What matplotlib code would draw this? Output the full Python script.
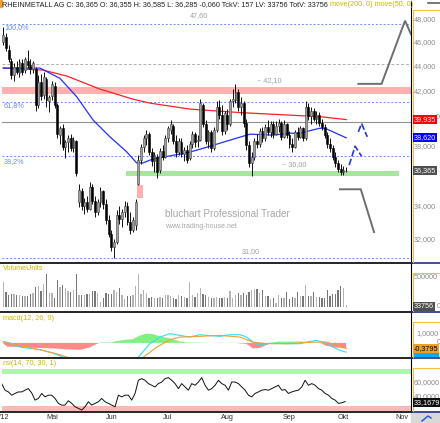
import matplotlib
matplotlib.use('Agg')
import matplotlib.pyplot as plt
import numpy as np
from matplotlib.patches import Rectangle
from matplotlib.lines import Line2D

plt.rcParams['font.family'] = ['Liberation Sans', 'DejaVu Sans']

W, H = 440, 423

# ---------------- data ----------------
opens = [46.0, 46.5, 45.4, 44.5, 43.3, 44.0, 43.5, 44.3, 43.7, 44.5, 44.1, 43.8, 43.8, 41.0, 42.8, 41.8,
         43.0, 41.3, 41.7, 42.5, 41.0, 38.8, 39.3, 38.0, 38.3, 38.6, 37.9, 38.4, 34.3, 35.0, 34.1, 34.3,
         33.9, 35.3, 34.4, 33.7, 34.3, 35.0, 34.2, 33.2, 32.4, 31.6, 31.9, 33.5, 33.3, 33.7, 34.1, 33.1,
         32.6, 32.9, 35.5, 37.1, 38.0, 38.6, 38.9, 37.6, 37.0, 37.3, 36.4, 37.7, 37.3, 38.6, 39.2, 39.5,
         38.4, 37.6, 38.3, 37.5, 37.8, 37.2, 38.2, 38.9, 38.4, 38.5, 41.0, 39.6, 38.4, 39.0, 37.9, 39.2,
         40.9, 40.3, 39.1, 40.3, 39.6, 41.3, 41.4, 42.0, 40.9, 41.2, 39.7, 38.1, 36.9, 37.3, 38.4, 38.2,
         39.1, 38.6, 39.4, 39.0, 39.6, 38.9, 39.5, 39.7, 38.7, 39.6, 38.8, 38.2, 38.0, 39.0, 38.7, 39.3,
         38.6, 40.9, 40.2, 40.6, 40.0, 40.3, 39.7, 39.4, 38.8, 38.2, 37.9, 37.3, 36.9, 36.5, 36.3, 36.355]
highs = [47.3, 46.8, 45.8, 44.7, 44.3, 44.5, 44.6, 44.6, 44.8, 45.4, 44.6, 44.5, 44.0, 43.3, 43.4, 43.6,
         43.2, 41.8, 42.9, 42.8, 41.2, 39.5, 39.6, 38.5, 38.8, 38.9, 38.7, 38.5, 35.5, 35.2, 34.6, 34.7,
         35.6, 35.5, 34.7, 34.5, 35.3, 35.1, 34.5, 33.5, 32.6, 32.1, 33.8, 34.1, 33.9, 34.4, 34.3, 33.7,
         33.4, 34.5, 37.4, 38.2, 38.8, 39.2, 39.0, 37.9, 37.6, 37.5, 37.9, 38.1, 38.8, 39.5, 39.9, 39.6,
         38.8, 38.6, 38.6, 38.0, 38.1, 38.4, 39.1, 39.0, 38.8, 41.5, 41.2, 39.9, 39.2, 39.2, 39.4, 41.3,
         41.4, 41.0, 40.6, 40.7, 41.5, 42.2, 42.65, 42.2, 41.6, 41.3, 40.0, 38.4, 37.6, 38.6, 38.9, 39.3,
         39.4, 39.6, 39.9, 39.8, 39.8, 39.8, 40.0, 39.8, 39.9, 39.7, 39.1, 38.6, 39.2, 39.4, 39.5, 39.4,
         41.3, 41.2, 40.9, 40.8, 40.6, 40.5, 40.0, 39.6, 39.0, 38.6, 38.1, 37.6, 37.1, 36.8, 36.7, 36.585]
lows = [45.8, 45.3, 44.4, 43.0, 42.9, 43.4, 43.2, 43.3, 43.5, 43.9, 43.4, 43.5, 40.6, 40.8, 41.4, 41.5,
        40.9, 40.5, 41.4, 40.8, 38.6, 38.2, 37.8, 37.2, 37.6, 37.7, 37.6, 36.0, 34.0, 33.8, 33.6, 33.7,
        33.8, 34.2, 33.4, 33.5, 34.0, 33.9, 33.0, 32.2, 31.4, 31.0, 31.8, 33.0, 32.8, 33.4, 32.9, 32.4,
        32.5, 32.6, 35.4, 36.8, 37.6, 38.1, 37.4, 36.7, 36.3, 35.9, 36.2, 37.1, 37.2, 38.3, 38.9, 38.2,
        37.3, 37.4, 37.3, 37.0, 36.9, 37.1, 37.9, 38.0, 38.0, 38.4, 39.4, 38.2, 37.9, 37.6, 37.8, 39.0,
        40.0, 38.8, 38.9, 39.2, 39.5, 40.9, 41.2, 40.6, 40.3, 39.4, 37.8, 36.6, 36.0, 37.1, 37.9, 38.0,
        38.3, 38.4, 38.8, 38.7, 38.6, 38.8, 39.0, 38.5, 38.6, 38.6, 37.9, 37.6, 37.9, 38.5, 38.6, 38.4,
        38.5, 39.9, 39.6, 39.8, 39.6, 39.5, 39.2, 38.6, 37.9, 37.6, 37.1, 36.6, 36.3, 36.1, 36.1, 36.285]
closes = [46.6, 45.5, 44.6, 43.3, 44.0, 43.6, 44.4, 43.6, 44.6, 44.1, 43.8, 44.3, 41.0, 42.8, 41.7, 43.2,
          41.4, 41.6, 42.6, 41.0, 38.9, 39.3, 38.0, 38.3, 38.6, 37.9, 38.5, 36.2, 35.1, 34.1, 34.3, 33.9,
          35.3, 34.4, 33.7, 34.3, 35.0, 34.2, 33.2, 32.4, 31.6, 31.9, 33.5, 33.3, 33.7, 34.1, 33.1, 32.6,
          33.2, 34.3, 37.1, 38.0, 38.6, 38.9, 37.6, 37.0, 37.4, 36.3, 37.7, 37.3, 38.6, 39.3, 39.6, 38.4,
          37.6, 38.4, 37.5, 37.8, 37.1, 38.2, 38.9, 38.3, 38.5, 41.2, 39.6, 38.4, 39.0, 37.9, 39.2, 40.9,
          40.3, 39.1, 40.4, 39.6, 41.3, 41.5, 42.0, 40.9, 41.2, 39.7, 38.1, 36.9, 37.3, 38.4, 38.2, 39.1,
          38.6, 39.4, 39.0, 39.6, 38.9, 39.5, 39.7, 38.7, 39.6, 38.8, 38.2, 38.0, 39.0, 38.7, 39.3, 38.6,
          40.9, 40.2, 40.6, 40.0, 40.3, 39.7, 39.4, 38.8, 38.2, 37.9, 37.3, 36.9, 36.5, 36.3, 36.4, 36.365]
volumes_k = [431, 259, 201, 230, 230, 207, 200, 190, 187, 195,
             230, 236, 340, 357, 270, 402, 576, 242, 242, 144,
             471, 350, 385, 328, 270, 259, 293, 576, 213, 213,
             213, 215, 230, 270, 275, 242, 86, 155, 247, 218,
             218, 293, 259, 328, 201, 132, 190, 190, 201, 357,
             576, 230, 299, 247, 155, 172, 155, 155, 172, 155,
             201, 201, 190, 150, 140, 201, 190, 172, 161, 431,
             213, 172, 247, 334, 218, 200, 172, 161, 144, 172,
             144, 161, 175, 155, 276, 144, 213, 242, 201, 242,
             201, 260, 299, 310, 316, 247, 287, 190, 190, 127,
             161, 58, 213, 161, 144, 259, 127, 172, 144, 259,
             190, 190, 374, 190, 190, 259, 172, 172, 161, 155,
             299, 190, 218, 230, 299, 362, 328, 33.756]

# moving averages (bar index, value)
ma200_idx = [0, 14.7, 23.6, 35.8, 48, 54.3, 69.1, 87.7, 106.2, 117.3, 127]
ma200_val = [43.89, 43.73, 43.25, 42.23, 41.46, 41.16, 40.71, 40.45, 40.26, 40.15, 39.935]
ma50_idx = [0, 13.6, 21, 27.2, 33.3, 39.5, 45.7, 49.4, 51.7, 54.3, 56.9, 62.9, 69.1, 75.4, 81.4,
            87.7, 91.4, 99.9, 106.2, 109.9, 117.3, 119.9, 127]
ma50_val = [43.89, 43.89, 43.07, 41.64, 39.89, 38.69, 37.64, 36.88, 36.88, 37.07, 37.20, 37.40, 37.62,
            37.96, 38.31, 38.67, 38.88, 38.81, 38.95, 38.95, 39.31, 39.24, 38.62]

# MACD (bar index, value)
macd_idx = [0, 2.5, 6.2, 11, 14.7, 18.4, 22, 26, 30, 35, 41, 45, 48, 50, 54.3, 58, 61.7, 65.4, 69,
            72.8, 75.4, 80.3, 84, 87.7, 90.1, 92.5, 95, 97.5, 99.9, 105, 109.9, 112.4, 116, 119.8,
            122.2, 124.7, 127]
macd_val = [0.16, -0.02, -0.46, -0.63, -0.82, -1.11, -1.54, -1.9, -2.3, -2.5, -2.6, -2.3, -2.0, -1.55,
            -0.09, 0.63, 1.0, 0.82, 0.63, 0.89, 0.82, 0.71, 0.89, 0.89, 0.63, 0.09, -0.27, -0.09,
            -0.02, -0.09, -0.09, 0.09, 0.27, -0.02, -0.46, -0.82, -1.0]
signal_idx = [0, 6.2, 13.6, 21, 23.5, 30, 38, 45, 50, 51.9, 56.8, 61.7, 65.4, 72.8, 80.3, 87.7, 92.5,
              97.5, 105, 114.7, 119.8, 123.5, 127]
signal_val = [0.09, -0.27, -0.74, -1.28, -1.54, -1.9, -2.3, -2.3, -2.0, -1.54, -0.46, 0.35, 0.63, 0.71,
              0.82, 0.63, 0.09, -0.09, -0.09, 0.09, 0.09, -0.27, -0.63]
hist_idx = [0, 1.4, 6.2, 13.6, 19, 23.6, 28.4, 32, 34.7, 36, 40, 42, 45.8, 48, 50.6, 53, 55.4, 58, 61.7,
            65.4, 68, 75, 80, 85, 90, 92.5, 95, 98.8, 102, 110, 117.3, 119.5, 122.8, 127]
hist_val = [-0.05, -0.4, -0.45, -0.55, -0.6, -0.7, -0.75, -0.5, -0.1, 0.05, 0.05, 0.2, 0.35, 0.4, 0.8,
            1.0, 0.95, 0.7, 0.5, 0.15, 0.05, 0.02, -0.02, 0.02, -0.1, -0.6, -0.55, -0.05, 0.15, 0.15,
            0.0, -0.3, -0.5, -0.55]

# RSI samples (evenly spread from first to last bar)
rsi_val = [59.1, 49.6, 47.1, 42.4, 44.9, 47.1, 47.1, 49.6, 51.9, 45.7, 35.3, 37.7, 44.9, 40.0, 42.4,
           42.4, 37.7, 30.6, 28.1, 28.1, 34.4, 30.6, 25.7, 23.4, 21.0, 25.7, 32.9, 28.1, 30.6, 32.9,
           37.7, 32.9, 30.6, 28.1, 25.7, 42.4, 40.0, 42.4, 42.4, 35.3, 44.9, 63.9, 66.3, 63.9, 59.1,
           56.7, 54.3, 59.1, 61.4, 66.3, 67.7, 63.9, 59.1, 51.9, 59.1, 54.3, 49.6, 59.1, 56.7, 61.4,
           67.7, 56.7, 49.6, 51.9, 56.7, 63.9, 59.1, 56.7, 49.6, 61.4, 61.4, 59.1, 54.3, 49.6, 42.4,
           40.0, 44.9, 47.1, 49.6, 50.5, 49.6, 51.9, 54.3, 56.7, 49.6, 50.5, 44.9, 47.1, 48.6, 49.6,
           54.3, 63.9, 56.7, 59.1, 56.7, 51.9, 49.6, 44.9, 42.4, 37.7, 35.3, 30.6, 31.4, 33.2]

# projections
proj_up_idx = [131.5, 140.1, 148.8, 151.0]
proj_up_val = [42.64, 42.64, 47.88, 46.7]
proj_dn_idx = [124.7, 132.4, 137.3]
proj_dn_val = [35.14, 35.14, 32.49]
caret1_idx = [128.1, 130.3, 132.7]
caret1_val = [36.73, 38.03, 37.34]
caret2_idx = [131.5, 132.7, 134.8]
caret2_val = [39.04, 39.65, 38.69]

month_labels = ["Mai", "Jun", "Jul", "Aug", "Sep", "Okt", "Nov"]
month_idx = [18, 40, 61, 83, 106, 126, 147.6]
price_ticks = [48, 46, 44, 42, 38, 34, 32]

# ---------------- layout helpers ----------------
XMIN, XMAX = -0.48, 151.0
GOLD = '#c8b800'
FS = 5.25

fig = plt.figure(figsize=(4.4, 4.23), dpi=100)
fig.patch.set_facecolor('white')


def fx(px):
    return px / W


def fy(py):
    return 1 - py / H


def panel(top, bottom):
    a = fig.add_axes([fx(2), fy(bottom), fx(411) - fx(2), (bottom - top) / H])
    a.set_xlim(XMIN, XMAX)
    for s in ['top', 'left', 'bottom']:
        a.spines[s].set_visible(False)
    a.spines['right'].set_linestyle((0, (1, 1)))
    a.spines['right'].set_linewidth(0.8)
    a.set_xticks([])
    a.set_yticks([])
    a.set_facecolor('white')
    return a


def T(px, py, s, **kw):
    kw.setdefault('fontsize', FS)
    kw.setdefault('va', 'center')
    return fig.text(fx(px), fy(py), s, **kw)


x = np.arange(len(closes))

# ---------------- main price panel ----------------
ax = panel(0, 261.5)
ax.set_yscale('log')
ax.set_ylim(30.78, 49.73)
ax.yaxis.set_minor_locator(matplotlib.ticker.NullLocator())
ax.yaxis.set_major_locator(matplotlib.ticker.NullLocator())

ax.axhspan(41.87, 42.36, color='#ffb0b0', lw=0, zorder=0)
ax.fill_between([45.4, 146.6], 36.02, 36.33, color='#a8e6a0', lw=0, zorder=0)
ax.add_patch(Rectangle((49.4, 34.6), 2.2, 0.8, color='#ffb0b0', lw=0, zorder=1))

fibc = '#6a8cff'
for lvl in [47.6, 41.26, 37.34, 31.0]:
    ax.axhline(lvl, color=fibc, lw=0.7, ls=(0, (2, 2)), zorder=1)
ax.axhline(44.22, color='#b0b0b0', lw=0.7, ls=(0, (3, 2)), zorder=1)
ax.axhline(39.75, color='#909090', lw=0.8, zorder=1)

ax.plot(ma200_idx, ma200_val, color='#ff2020', lw=0.9, zorder=2)
ax.plot(ma50_idx, ma50_val, color='#2030ff', lw=0.9, zorder=2)

o = np.array(opens); c = np.array(closes); h = np.array(highs); l = np.array(lows)
up = c >= o
ax.vlines(x, l, h, color='#101010', lw=0.7, zorder=3)
ax.bar(x[up], (c - o)[up], bottom=o[up], width=0.7, color='#a0a0a0', edgecolor='#404040', lw=0.4, zorder=4)
ax.bar(x[~up], (o - c)[~up], bottom=c[~up], width=0.7, color='#000000', edgecolor='#000000', lw=0.4, zorder=4)

ax.plot(proj_up_idx, proj_up_val, color='#6e6e6e', lw=1.4, zorder=5, solid_joinstyle='miter')
ax.plot(proj_dn_idx, proj_dn_val, color='#6e6e6e', lw=1.4, zorder=5, solid_joinstyle='miter')
ax.plot(caret1_idx, caret1_val, color='#2838d8', lw=1.2, ls=(0, (4, 1.5)), zorder=5)
ax.plot(caret2_idx, caret2_val, color='#2838d8', lw=1.2, ls=(0, (4, 1.5)), zorder=5)

# title
T(2, 5, "RHEINMETALL AG C: 36,365 O: 36,355 H: 36,585 L: 36,285 -0,060 TckV: 157 LV: 33756 TotV: 33756",
  color='#202020')
T(330, 5, "move(200, 0) move(50, 0)", color=GOLD)
fig.add_artist(Rectangle((0, fy(7)), fx(1.5), 7 / H, color='#f0a030', transform=fig.transFigure))

# level texts
T(190, 16, "47,60", color='#a0a0a0')
T(4, 28, "100,0%", color=fibc)
T(4, 106, "61,8%", color=fibc)
T(4, 162, "38,2%", color=fibc)
T(257, 81, "~ 42,10", color='#a0a0a0')
T(282, 165, "~ 36,00", color='#a0a0a0')
T(242, 252, "31,00", color='#a0a0a0')
T(165, 214, "bluchart Professional Trader", color='#a8a8a8', fontsize=7.2)
T(165, 226, "www.trading-house.net", color='#a8a8a8', fontsize=5.0)

# right axis labels (main)
def price_to_py(p):
    return 19.3 + 544.3 * np.log(48.0 / p)

for p in price_ticks:
    T(414, price_to_py(p), f"{p},000", color='#8a8a8a')
T(435.5, price_to_py(40) - 1, "0", color='#8a8a8a')
for val, bg in [(39.935, '#ff0000'), (38.62, '#0000ff'), (36.365, '#505050')]:
    T(413.5, price_to_py(val), f"{val:.3f}".replace('.', ','), color='white',
      bbox=dict(boxstyle='square,pad=0.12', fc=bg, ec='none'))

# ---------------- volume panel ----------------
av = panel(263.5, 311)
av.set_ylim(-74, 753)
vol = np.array(volumes_k)
vcol = np.where(up, '#b4b4b4', '#777777')
av.bar(x, vol, width=0.45, color=vcol, lw=0)
T(3, 268, "VolumeUnits", color=GOLD)
T(414, 277.7, "500000", color='#8a8a8a')
T(437, 306.7, "0", color='#8a8a8a')
T(413.5, 306.5, "33756", color='white', bbox=dict(boxstyle='square,pad=0.12', fc='#505050', ec='none'))

# ---------------- MACD panel ----------------
am = panel(312.5, 357)
am.set_ylim(-1.53, 3.30)
hi = np.array(hist_idx); hv = np.array(hist_val)
am.fill_between(hi, 0, hv, where=hv >= 0, interpolate=True, color='#80f080', lw=0)
am.fill_between(hi, 0, hv, where=hv <= 0, interpolate=True, color='#ff8888', lw=0)
am.plot(macd_idx, macd_val, color='#30e0f0', lw=0.8)
am.plot(signal_idx, signal_val, color='#f0a030', lw=0.8)
T(3, 318, "macd(12, 26, 9)", color=GOLD)
T(416, 333.3, "1,0000", color='#8a8a8a')
T(437, 342.3, "0", color='#8a8a8a')
fig.add_artist(Rectangle((fx(413), fy(356)), fx(25), 3 / H, color='#00b0f0', transform=fig.transFigure))
T(413.5, 348.5, "-0,3795", color='black', bbox=dict(boxstyle='square,pad=0.12', fc='#f0a020', ec='none'))

# ---------------- RSI panel ----------------
ar = panel(358.5, 411)
ar.set_ylim(19.6, 95.3)
ar.axhspan(73.4, 80.6, color='#b0f4b0', lw=0)
ar.axhspan(19.6, 27.1, color='#ffb8b8', lw=0)
rsi_x = np.linspace(-0.6, 126.6, len(rsi_val))
ar.plot(rsi_x, rsi_val, color='#101010', lw=0.7)
T(3, 363, "rsi(14, 70, 30, 1)", color=GOLD)
T(414, 382.7, "60,0000", color='#8a8a8a')
T(414, 396.7, "40,0000", color='#8a8a8a')
T(413.5, 402.7, "33,1679", color='white', bbox=dict(boxstyle='square,pad=0.12', fc='#101010', ec='none'))

# ---------------- separators / frames ----------------
for yy in [262.5, 311.8, 357.6, 411.6]:
    fig.add_artist(Line2D([0, fx(411.5)], [fy(yy), fy(yy)], color='black', lw=1.2, transform=fig.transFigure))
    fig.add_artist(Line2D([fx(411.5), 1], [fy(yy), fy(yy)], color='#203080', lw=1.2, transform=fig.transFigure))
for top, bot in [(10, 262), (273, 311), (321.7, 357), (368, 411)]:
    fig.add_artist(Line2D([fx(412.6), fx(412.6)], [fy(top), fy(bot)], color='#f0c040', lw=0.8, transform=fig.transFigure))
    fig.add_artist(Line2D([fx(412.6), 1], [fy(top), fy(top)], color='#f0c040', lw=0.8, transform=fig.transFigure))
fig.add_artist(Line2D([fx(428), 1], [fy(3), fy(3)], color='#606060', lw=1.2, transform=fig.transFigure))

# bottom date axis
T(0, 417.5, "'12", color='#303030', ha='left')
for lab, mi in zip(month_labels, month_idx):
    px = 2 + (mi - XMIN) * (409 / (XMAX - XMIN))
    T(px, 417.5, lab, color='#303030', ha='center')
fig.add_artist(Rectangle((fx(411), 0), 1 - fx(411), 11 / H, color='#d8d8d8', transform=fig.transFigure))
fig.add_artist(Line2D([fx(422), fx(428), fx(431)], [fy(421), fy(416), fy(418)], color='#2050d0', lw=1.0,
                      transform=fig.transFigure))

fig.savefig('out.png', dpi=100, facecolor='white')
